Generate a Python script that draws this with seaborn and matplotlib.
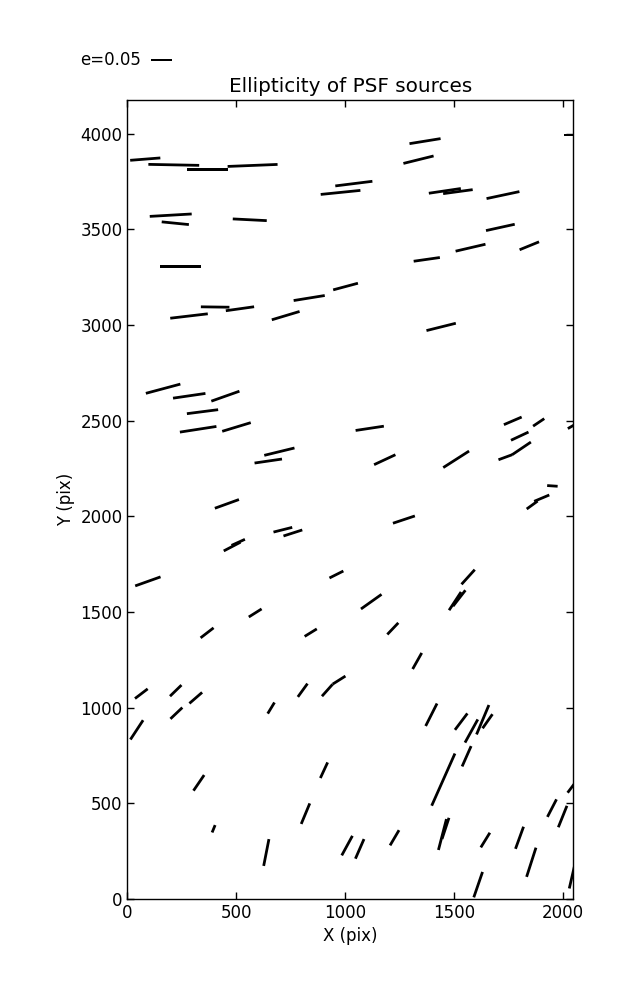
import numpy as np
import matplotlib
matplotlib.use("Agg")
import matplotlib.pyplot as plt
import seaborn as sns

# PSF star positions on the chip (pix), ellipticity and position angle (deg)
x_pix = [82, 213, 368, 575, 1040, 979, 199, 220, 562, 1367,
         1337, 1458, 1518, 1725, 2048, 1713, 1576, 1846, 1375, 244,
         403, 283, 517, 835, 1002, 727, 1441, 164, 284, 450,
         345, 501, 325, 1113, 1770, 1889, 2048, 698, 647, 1182,
         1510, 1736, 1810, 1802, 1952, 1859, 1903, 457, 1270, 714,
         760, 481, 509, 94, 960, 1565, 1120, 1505, 1524, 587,
         366, 842, 1219, 1331, 64, 222, 314, 225, 43, 660,
         805, 918, 972, 1396, 1533, 1580, 1632, 1654, 328, 903,
         396, 818, 638, 1009, 1451, 1558, 1067, 1227, 1447, 1461,
         1644, 1801, 1855, 1611, 1950, 1999, 2048, 2048]
y_pix = [3867, 3837, 3812, 3834, 3739, 3693, 3574, 3532, 3550, 3961,
         3864, 3701, 3697, 3679, 3993, 3510, 3404, 3414, 3343, 3306,
         3094, 3047, 3085, 3141, 3201, 3049, 2990, 2667, 2630, 2628,
         2547, 2467, 2455, 2460, 2499, 2491, 2475, 2338, 2289, 2296,
         2298, 2309, 2355, 2419, 2159, 2059, 2095, 2065, 1983, 1930,
         1913, 1842, 1864, 1660, 1696, 1683, 1554, 1557, 1572, 1495,
         1391, 1392, 1413, 1244, 1073, 1089, 1051, 971, 884, 998,
         1091, 1091, 1144, 963, 927, 878, 937, 929, 607, 673,
         367, 446, 243, 279, 624, 746, 262, 320, 337, 369,
         308, 320, 192, 75, 475, 431, 595, 146]
ellip = [0.072, 0.121, 0.099, 0.119, 0.089, 0.095, 0.100, 0.065, 0.081, 0.075,
         0.074, 0.077, 0.071, 0.080, 0.043, 0.070, 0.073, 0.050, 0.063, 0.099,
         0.068, 0.090, 0.068, 0.075, 0.061, 0.069, 0.072, 0.085, 0.078, 0.071,
         0.075, 0.071, 0.088, 0.068, 0.046, 0.032, 0.030, 0.074, 0.066, 0.056,
         0.073, 0.035, 0.054, 0.046, 0.025, 0.032, 0.039, 0.061, 0.055, 0.046,
         0.047, 0.045, 0.035, 0.064, 0.037, 0.047, 0.060, 0.052, 0.048, 0.036,
         0.039, 0.034, 0.038, 0.044, 0.038, 0.038, 0.040, 0.039, 0.055, 0.031,
         0.039, 0.038, 0.036, 0.060, 0.049, 0.063, 0.076, 0.041, 0.045, 0.041,
         0.019, 0.053, 0.065, 0.053, 0.136, 0.053, 0.051, 0.042, 0.076, 0.053,
         0.041, 0.056, 0.073, 0.064, 0.047, 0.055, 0.045, 0.085]
theta = [4.5, -1.1, 0, 2.3, 7.1, 5.8, 3.3, -5.7, -2.9, 9.2,
         13.9, 8.4, 7.7, 12.0, 0, 12.4, 13.1, 22.2, 8.1, 0,
         -0.8, 6.7, 8.0, 9.2, 15.0, 16.7, 14.0, 15.0, 8.3, 19.5,
         7.3, 16.9, 8.8, 8.6, 23.2, 33.9, 30, 13.7, 8.3, 25.0,
         32.6, 20.2, 34.0, 25.1, -3.9, 36.0, 22.8, 19.9, 18.4, 14.1,
         17.8, 27.5, 24.3, 19.6, 26.6, 47.9, 35.4, 56.7, 52.2, 32.2,
         37.6, 31.7, 46.5, 60.6, 37.3, 44.2, 40.9, 43.5, 56.7, 58.7,
         54.1, 48.3, 32.2, 63.2, 52.9, 61.1, 67.2, 55.0, 55.7, 65.1,
         67.7, 67.4, 78.9, 61.4, 66.0, 66.1, 66.4, 59.5, 75.5, 71.8,
         58.3, 70.0, 72.2, 71.0, 62.7, 68.1, 53, 77]

key_e = 0.05
chip_x = 2048
chip_y = 4176

sns.set_style("ticks", {
    "axes.edgecolor": "black",
    "axes.labelcolor": "black",
    "text.color": "black",
    "xtick.color": "black",
    "ytick.color": "black",
    "xtick.direction": "in",
    "ytick.direction": "in",
})
plt.rcParams["font.family"] = ["DejaVu Sans"]
plt.rcParams["font.size"] = 12
plt.rcParams["axes.titlesize"] = 14.4
plt.rcParams["axes.labelsize"] = 12
plt.rcParams["xtick.labelsize"] = 12
plt.rcParams["ytick.labelsize"] = 12

e_arr = np.array(ellip)
ang = np.deg2rad(np.array(theta))
u = e_arr * np.cos(ang)
v = e_arr * np.sin(ang)

fig = plt.figure(figsize=(6.37, 10), dpi=100)
ax = fig.add_axes([0.2, 0.101, 0.7, 0.799])

q = ax.quiver(x_pix, y_pix, u, v, color="black",
              headwidth=0, headlength=0, headaxislength=0,
              pivot="middle", angles="uv",
              scale_units="inches", scale=key_e / 0.21,
              width=0.0062)
# key arrow starts at X when the label sits on the west side
ax.quiverkey(q, 0.2366, 0.94, key_e, "e=0.05", labelpos="W",
             coordinates="figure", labelsep=0.1, color="black",
             labelcolor="black", fontproperties={"size": 12})

ax.set_xlim(0, chip_x)
ax.set_ylim(0, chip_y)
ax.set_xticks([0, 500, 1000, 1500, 2000])
ax.set_yticks(np.arange(0, 4001, 500))
ax.tick_params(top=True, right=True, length=5, width=1)
for s in ax.spines.values():
    s.set_linewidth(1)
ax.set_xlabel("X (pix)")
ax.set_ylabel("Y (pix)")
ax.set_title("Ellipticity of PSF sources")

fig.savefig("out.png", dpi=100)
